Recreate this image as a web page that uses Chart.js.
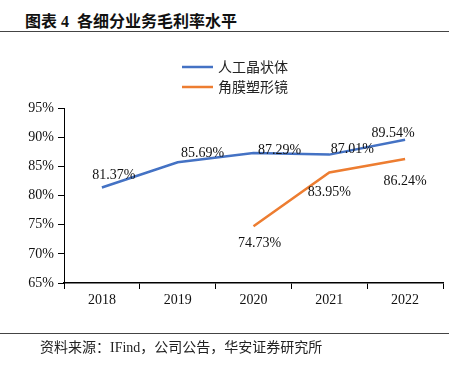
<!DOCTYPE html>
<html>
<head>
<meta charset="utf-8">
<script src="https://cdn.jsdelivr.net/npm/chart.js@4.4.0/dist/chart.umd.min.js"></script>
<style>
  body { margin: 0; background: #fff; width: 449px; height: 370px; position: relative; overflow: hidden; }
  #title { position: absolute; left: 25px; top: 8px; font: bold 16px "Liberation Serif", "Noto Sans CJK SC"; color: #111; white-space: nowrap; }
  .rule { position: absolute; left: 0; width: 449px; height: 0; border-top: 1.5px solid #444; }
  #footer { position: absolute; left: 40px; top: 336px; font: 14px "Liberation Serif", "Noto Sans CJK SC"; color: #222; white-space: nowrap; }
  #wrap { position: absolute; left: 0; top: 0; width: 449px; height: 370px; }
</style>
</head>
<body>
<div id="title">图表 4&nbsp;&nbsp;各细分业务毛利率水平</div>
<div class="rule" style="top:31px"></div>
<div id="wrap"><canvas id="myChart" width="449" height="370"></canvas></div>
<div class="rule" style="top:333px"></div>
<div id="footer">资料来源：IFind，公司公告，华安证券研究所</div>

<script>
// données
var years = ["2018", "2019", "2020", "2021", "2022"];
var seriesNames = ["人工晶状体", "角膜塑形镜"];
var lensValues = [81.37, 85.69, 87.29, 87.01, 89.54];
var orthoValues = [null, null, 74.73, 83.95, 86.24];
var yTicks = [65, 70, 75, 80, 85, 90, 95];

// décalage des étiquettes par rapport au point (px)
var lensLabelShift = [[12, -12], [25, -9], [26, -3], [23, -5], [-12, -7]];
var orthoLabelShift = [[0, 0], [0, 0], [6, 17], [0, 20], [0, 22]];

var serif = "Liberation Serif";

// étiquettes de valeurs
var valueLabels = {
  id: "valueLabels",
  afterDatasetsDraw(chart) {
    var ctx = chart.ctx;
    ctx.save();
    ctx.font = "14px " + serif;
    ctx.fillStyle = "#111";
    ctx.textAlign = "center";
    ctx.textBaseline = "middle";
    var shifts = [lensLabelShift, orthoLabelShift];
    chart.data.datasets.forEach(function (ds, di) {
      var meta = chart.getDatasetMeta(di);
      meta.data.forEach(function (pt, i) {
        var v = ds.data[i];
        if (v === null || v === undefined) return;
        ctx.fillText(v.toFixed(2) + "%", pt.x + shifts[di][i][0], pt.y + shifts[di][i][1]);
      });
    });
    ctx.restore();
  }
};

// légende verticale
var sideLegend = {
  id: "sideLegend",
  afterDraw(chart) {
    var ctx = chart.ctx;
    ctx.save();
    ctx.font = "14px 'Noto Sans CJK SC'";
    ctx.textBaseline = "middle";
    chart.data.datasets.forEach(function (ds, i) {
      var y = 67 + i * 20;
      ctx.strokeStyle = ds.borderColor;
      ctx.lineWidth = 2.5;
      ctx.beginPath();
      ctx.moveTo(182, y);
      ctx.lineTo(213, y);
      ctx.stroke();
      ctx.fillStyle = "#222";
      ctx.fillText(ds.label, 218, y);
    });
    ctx.restore();
  }
};

var ctx = document.getElementById("myChart").getContext("2d");
new Chart(ctx, {
  type: "line",
  data: {
    labels: years,
    datasets: [{
      label: seriesNames[0],
      data: lensValues,
      borderColor: "#4472C4",
      borderWidth: 2.5,
      pointRadius: 0,
      tension: 0
    }, {
      label: seriesNames[1],
      data: orthoValues,
      borderColor: "#ED7D31",
      borderWidth: 2.5,
      pointRadius: 0,
      tension: 0
    }]
  },
  options: {
    responsive: false,
    animation: false,
    layout: { padding: { top: 108, right: 6, left: 0, bottom: 0 } },
    plugins: {
      legend: { display: false },
      tooltip: { enabled: false }
    },
    scales: {
      x: {
        offset: true,
        grid: { display: true, offset: true, drawOnChartArea: false, drawTicks: true, tickLength: 6, color: "#000", lineWidth: 1 },
        border: { display: true, color: "#000", width: 1.5 },
        ticks: { color: "#111", font: { family: serif, size: 14 }, padding: 3, maxRotation: 0 },
        afterFit(scale) { scale.height = 87; }
      },
      y: {
        min: yTicks[0],
        max: yTicks[yTicks.length - 1],
        afterBuildTicks(scale) { scale.ticks = yTicks.map(v => ({ value: v })); },
        grid: { display: true, drawOnChartArea: false, drawTicks: true, tickLength: 6, color: "#000", lineWidth: 1 },
        border: { display: true, color: "#000", width: 1 },
        ticks: { color: "#111", font: { family: serif, size: 14 }, padding: 4, callback: v => v + "%" },
        afterFit(scale) { scale.width = 64; }
      }
    }
  },
  plugins: [valueLabels, sideLegend]
});
</script>
</body>
</html>
